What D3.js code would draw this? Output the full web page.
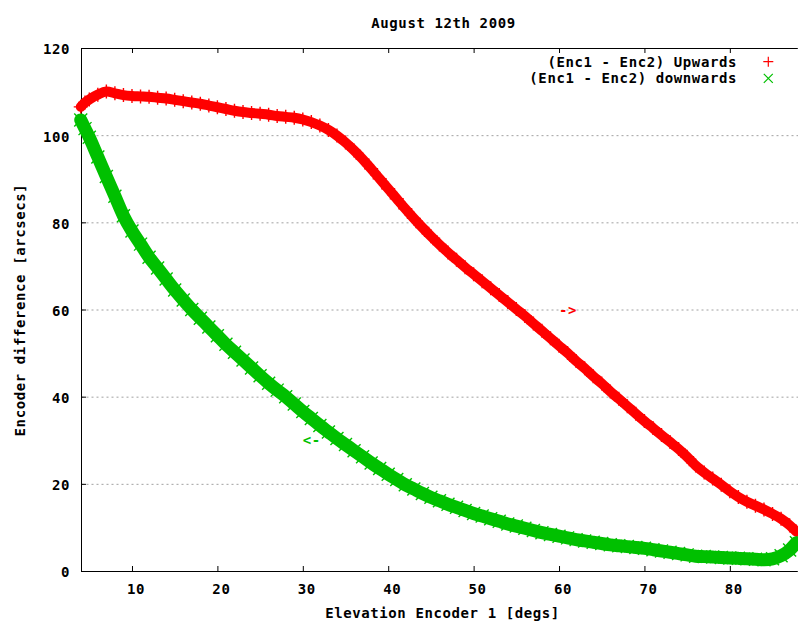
<!DOCTYPE html>
<html>
<head>
<meta charset="utf-8">
<script src="https://cdn.jsdelivr.net/npm/d3@7"></script>
<style>
body { margin: 0; background: #fff; }
svg text {
  font-family: "DejaVu Sans Mono", "Liberation Mono", monospace;
  font-weight: bold;
  font-size: 14px;
  letter-spacing: 0.6px;
  fill: #000;
}
</style>
</head>
<body>
<script>
const xTicks = [10, 20, 30, 40, 50, 60, 70, 80];
const yTicks = [0, 20, 40, 60, 80, 100, 120];
const gridValues = [20, 40, 60, 80, 100];
const xDomain = [4.03, 87.9];
const yDomain = [0, 120];

const seriesNames = ["(Enc1 - Enc2) Upwards", "(Enc1 - Enc2) downwards"];

// [elevation, difference]
const upwards = [
  [4, 106.5], [4.5, 107.5], [5, 108.2], [6, 109.3], [7, 110], [8, 109.6], [9, 109.2],
  [10, 109], [11, 108.9], [12, 108.8], [13, 108.6], [14, 108.4], [15, 108.1], [16, 107.8],
  [17, 107.5], [18, 107.2], [19, 106.8], [20, 106.4], [21, 106], [22, 105.6], [23, 105.3],
  [24, 105.1], [25, 104.9], [26, 104.7], [27, 104.4], [28, 104.2], [29, 104], [30, 103.6],
  [31, 103], [32, 102.2], [33, 101.2], [34, 99.9], [35, 98.3], [36, 96.5], [37, 94.5],
  [38, 92.3], [39, 90], [40, 87.7], [41, 85.4], [42, 83.1], [43, 80.9], [44, 78.8],
  [45, 76.8], [46, 74.9], [47, 73.1], [48, 71.4], [49, 69.7], [50, 68.1], [51, 66.5],
  [52, 64.9], [53, 63.3], [54, 61.7], [55, 60.1], [56, 58.5], [57, 56.8], [58, 55.1],
  [59, 53.4], [60, 51.7], [61, 50], [62, 48.2], [63, 46.5], [64, 44.7], [65, 43],
  [66, 41.2], [67, 39.5], [68, 37.8], [69, 36.1], [70, 34.4], [71, 32.8], [72, 31.2],
  [73, 29.6], [74, 28], [75, 26.2], [76, 24.2], [77, 22.6], [78, 21.2], [79, 19.8],
  [80, 18.3], [81, 17], [82, 15.9], [83, 15], [84, 14.1], [85, 13.1], [86, 12],
  [87, 10.5], [87.8, 9]
];

const downwards = [
  [4, 103.5], [4.5, 101.5], [5, 99.5], [6, 95], [7, 90.5], [8, 86], [9, 81.5],
  [10, 78], [11, 75], [12, 72], [13, 69.5], [14, 67], [15, 64.5], [16, 62.2],
  [17, 60], [18, 58], [19, 56], [20, 54], [21, 52], [22, 50.2], [23, 48.4],
  [24, 46.6], [25, 44.8], [26, 43.1], [27, 41.5], [28, 40], [29, 38.3], [30, 36.6],
  [31, 35], [32, 33.4], [33, 31.9], [34, 30.4], [35, 29], [36, 27.6], [37, 26.2],
  [38, 24.8], [39, 23.5], [40, 22.2], [41, 21], [42, 19.8], [43, 18.8], [44, 17.8],
  [45, 16.9], [46, 16.1], [47, 15.3], [48, 14.6], [49, 13.9], [50, 13.2], [51, 12.6],
  [52, 12], [53, 11.4], [54, 10.8], [55, 10.3], [56, 9.8], [57, 9.3], [58, 8.8],
  [59, 8.4], [60, 8], [61, 7.6], [62, 7.2], [63, 6.9], [64, 6.6], [65, 6.3],
  [66, 6], [67, 5.8], [68, 5.6], [69, 5.4], [70, 5.2], [71, 4.9], [72, 4.6],
  [73, 4.3], [74, 4], [75, 3.7], [76, 3.4], [77, 3.3], [78, 3.2], [79, 3.1],
  [80, 3], [81, 2.9], [82, 2.8], [83, 2.7], [84, 2.6], [85, 2.8], [86, 3.5],
  [87, 4.8], [87.8, 6.5]
];

// direction hints placed in data coordinates
const arrowLabels = [
  {text: "->", x: 60, y: 60, series: 0},
  {text: "<-", x: 30, y: 30, series: 1}
];

const width = 798;
const height = 623;
const colors = ["#ff0000", "#00c000"];

const x = d3.scaleLinear().domain(xDomain).range([81, 797.3]);
const y = d3.scaleLinear().domain(yDomain).range([571, 48]);

const svg = d3.select("body").append("svg")
    .attr("width", width)
    .attr("height", height);

// dotted horizontal grid
svg.append("g").selectAll("line")
  .data(gridValues)
  .enter().append("line")
  .attr("x1", x.range()[0] + 0.5)
  .attr("x2", width)
  .attr("y1", d => y(d) + 0.5)
  .attr("y2", d => y(d) + 0.5)
  .attr("stroke", "#a0a0a0")
  .attr("stroke-dasharray", "2,3");

// axes, ticks point inwards like gnuplot
const xAxis = svg.append("g")
  .attr("transform", `translate(0,${y(0)})`)
  .call(d3.axisBottom(x).tickValues(xTicks).tickSizeInner(-5).tickSizeOuter(0).tickPadding(13.5));
xAxis.selectAll("text").attr("dx", 3.5);

svg.append("g")
  .attr("transform", `translate(0,${y(120)})`)
  .call(d3.axisTop(x).tickValues(xTicks).tickSizeInner(-5).tickSizeOuter(0).tickFormat(""));

const yAxis = svg.append("g")
  .attr("transform", `translate(${x.range()[0]},0)`)
  .call(d3.axisLeft(y).tickValues(yTicks).tickSizeInner(-5).tickSizeOuter(0).tickPadding(11));
yAxis.selectAll("text").attr("dy", "0.42em");

svg.selectAll(".domain").attr("stroke", "#000");
svg.selectAll(".tick line").attr("stroke", "#000");

// series: band through the points plus point markers
const line = d3.line().x(d => x(d[0])).y(d => y(d[1])).curve(d3.curveCatmullRom);
const plusPath = "M-7,0H7M0,-7V7";
const crossPath = "M-6.5,-6.5L6.5,6.5M-6.5,6.5L6.5,-6.5";

[upwards, downwards].forEach((data, i) => {
  const g = svg.append("g").attr("class", "series");
  g.append("path")
    .datum(data)
    .attr("d", line)
    .attr("fill", "none")
    .attr("stroke", colors[i])
    .attr("stroke-width", i === 0 ? 10 : 13)
    .attr("stroke-linejoin", "round")
    .attr("stroke-linecap", "round");
  g.selectAll("path.pt")
    .data(data)
    .enter().append("path")
    .attr("class", "pt")
    .attr("d", i === 0 ? plusPath : crossPath)
    .attr("transform", d => `translate(${x(d[0])},${y(d[1])})`)
    .attr("fill", "none")
    .attr("stroke", colors[i])
    .attr("stroke-width", 1.4);
});

svg.append("g").selectAll("text")
  .data(arrowLabels)
  .enter().append("text")
  .attr("x", d => x(d.x))
  .attr("y", d => y(d.y) + 5)
  .style("fill", d => colors[d.series])
  .text(d => d.text);

// titles
svg.append("text")
  .attr("x", 443.5)
  .attr("y", 28)
  .attr("text-anchor", "middle")
  .text("August 12th 2009");

svg.append("text")
  .attr("x", 442.5)
  .attr("y", 618)
  .attr("text-anchor", "middle")
  .text("Elevation Encoder 1 [degs]");

svg.append("text")
  .attr("transform", "translate(25,310) rotate(-90)")
  .attr("text-anchor", "middle")
  .text("Encoder difference [arcsecs]");

// legend
const legend = svg.append("g").attr("class", "legend");
seriesNames.forEach((name, i) => {
  const ly = 61.7 + i * 16.7;
  legend.append("text")
    .attr("x", 737)
    .attr("y", ly + 5)
    .attr("text-anchor", "end")
    .text(name);
  legend.append("path")
    .attr("d", i === 0 ? "M-5,0H5M0,-5V5" : "M-4.5,-4.5L4.5,4.5M-4.5,4.5L4.5,-4.5")
    .attr("transform", `translate(768.3,${ly})`)
    .attr("fill", "none")
    .attr("stroke", colors[i])
    .attr("stroke-width", 1.2);
});
</script>
</body>
</html>
